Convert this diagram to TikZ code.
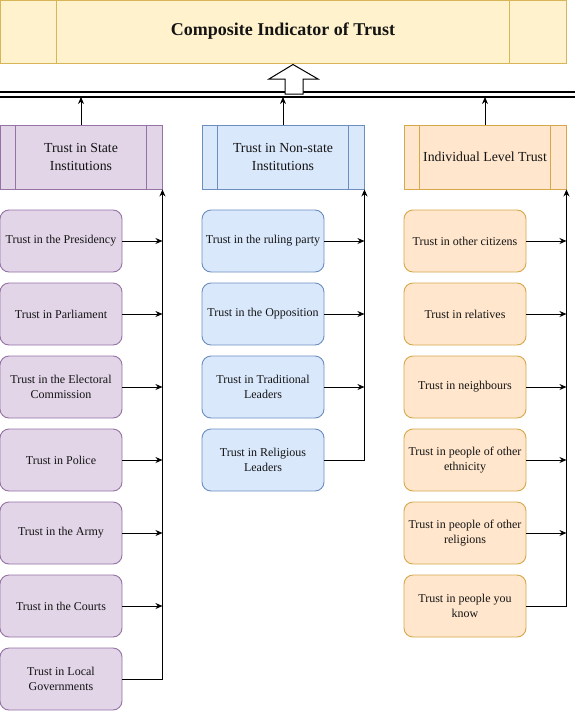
\documentclass[tikz,border=0pt]{standalone}
\usepackage{fontspec}
\setmainfont{Liberation Serif}
\usetikzlibrary{arrows.meta}
\definecolor{pfill}{HTML}{E1D5E7}\definecolor{pdraw}{HTML}{9673A6}
\definecolor{bfill}{HTML}{DAE8FC}\definecolor{bdraw}{HTML}{6C8EBF}
\definecolor{ofill}{HTML}{FFE6CC}\definecolor{odraw}{HTML}{D6A84A}
\definecolor{yfill}{HTML}{FFF2CC}\definecolor{ydraw}{HTML}{D6B656}
\definecolor{txt}{HTML}{141414}
\begin{document}
\begin{tikzpicture}[x=1pt,y=-1pt,
  item/.style={rounded corners=9pt, minimum width=122pt, minimum height=62pt, align=center,
    inner sep=1pt, line width=0.9pt, text=txt, font=\fontsize{12}{15.5}\selectfont},
  hdr/.style={minimum width=162pt, minimum height=64pt, align=center, inner sep=0pt,
    line width=0.9pt, text=txt, font=\fontsize{13.8}{18}\selectfont},
  arr/.style={line width=0.9pt, -{Stealth[length=7pt,width=6pt]}},
  ln/.style={line width=0.9pt}]
\useasboundingbox (0,0) rectangle (575,712);
\fill[white] (0,0) rectangle (575,712);

% title
\node[draw=ydraw, fill=yfill, minimum width=566pt, minimum height=63pt, line width=0.9pt,
  inner sep=0pt, font=\bfseries\fontsize{18}{20}\selectfont, text=txt] (top) at (283,31.5) {Composite Indicator of Trust};
\draw[ydraw, line width=0.9pt] ([xshift=57pt]top.north west) -- ([xshift=57pt]top.south west);
\draw[ydraw, line width=0.9pt] ([xshift=-57pt]top.north east) -- ([xshift=-57pt]top.south east);

% double line
\coordinate (la) at (0,92); \coordinate (lb) at (575,92);
\coordinate (lc) at (0,97); \coordinate (ld) at (575,97);
\draw[line width=1.1pt] (la) -- (lb);
\draw[line width=1.1pt] (lc) -- (ld);

% hollow arrow
\draw[line width=1pt, fill=white] (293,64.5) -- (318,79) -- (303,79) -- (303,94) -- (285,94) -- (285,79) -- (269,79) -- cycle;

% headers
\node[hdr, draw=pdraw, fill=pfill] (hs) at (81,157) {Trust in State\\Institutions};
\node[hdr, draw=bdraw, fill=bfill] (hn) at (283,157) {Trust in Non-state\\Institutions};
\node[hdr, draw=odraw, fill=ofill] (hi) at (485,157) {Individual Level Trust};
\foreach \h/\c in {hs/pdraw, hn/bdraw, hi/odraw}{
  \draw[\c, line width=0.9pt] ([xshift=16pt]\h.north west) -- ([xshift=16pt]\h.south west);
  \draw[\c, line width=0.9pt] ([xshift=-16pt]\h.north east) -- ([xshift=-16pt]\h.south east);
  \draw[arr] (\h.north) -- (\h.north |- lc);
}

% state items
\node[item, draw=pdraw, fill=pfill] (s1) at (61,241) {Trust in the Presidency};
\node[item, draw=pdraw, fill=pfill] (s2) at (61,314) {Trust in Parliament};
\node[item, draw=pdraw, fill=pfill] (s3) at (61,387) {Trust in the Electoral\\Commission};
\node[item, draw=pdraw, fill=pfill] (s4) at (61,460) {Trust in Police};
\node[item, draw=pdraw, fill=pfill] (s5) at (61,533) {Trust in the Army};
\node[item, draw=pdraw, fill=pfill] (s6) at (61,606) {Trust in the Courts};
\node[item, draw=pdraw, fill=pfill] (s7) at (61,679) {Trust in Local\\Governments};

% non-state items
\node[item, draw=bdraw, fill=bfill] (n1) at (263,241) {Trust in the ruling party};
\node[item, draw=bdraw, fill=bfill] (n2) at (263,314) {Trust in the Opposition};
\node[item, draw=bdraw, fill=bfill] (n3) at (263,387) {Trust in Traditional\\Leaders};
\node[item, draw=bdraw, fill=bfill] (n4) at (263,460) {Trust in Religious\\Leaders};

% individual items
\node[item, draw=odraw, fill=ofill] (i1) at (465,241) {Trust in other citizens};
\node[item, draw=odraw, fill=ofill] (i2) at (465,314) {Trust in relatives};
\node[item, draw=odraw, fill=ofill] (i3) at (465,387) {Trust in neighbours};
\node[item, draw=odraw, fill=ofill] (i4) at (465,460) {Trust in people of other\\ethnicity};
\node[item, draw=odraw, fill=ofill] (i5) at (465,533) {Trust in people of other\\religions};
\node[item, draw=odraw, fill=ofill] (i6) at (465,606) {Trust in people you\\know};

% connectors
\foreach \n in {s1,s2,s3,s4,s5,s6}{\draw[arr] (\n.east) -- (\n.east -| hs.south east);}
\draw[arr] (s7.east) -| (hs.south east);
\foreach \n in {n1,n2,n3}{\draw[arr] (\n.east) -- (\n.east -| hn.south east);}
\draw[arr] (n4.east) -| (hn.south east);
\foreach \n in {i1,i2,i3,i4,i5}{\draw[arr] (\n.east) -- (\n.east -| hi.south east);}
\draw[arr] (i6.east) -| (hi.south east);
\end{tikzpicture}
\end{document}
